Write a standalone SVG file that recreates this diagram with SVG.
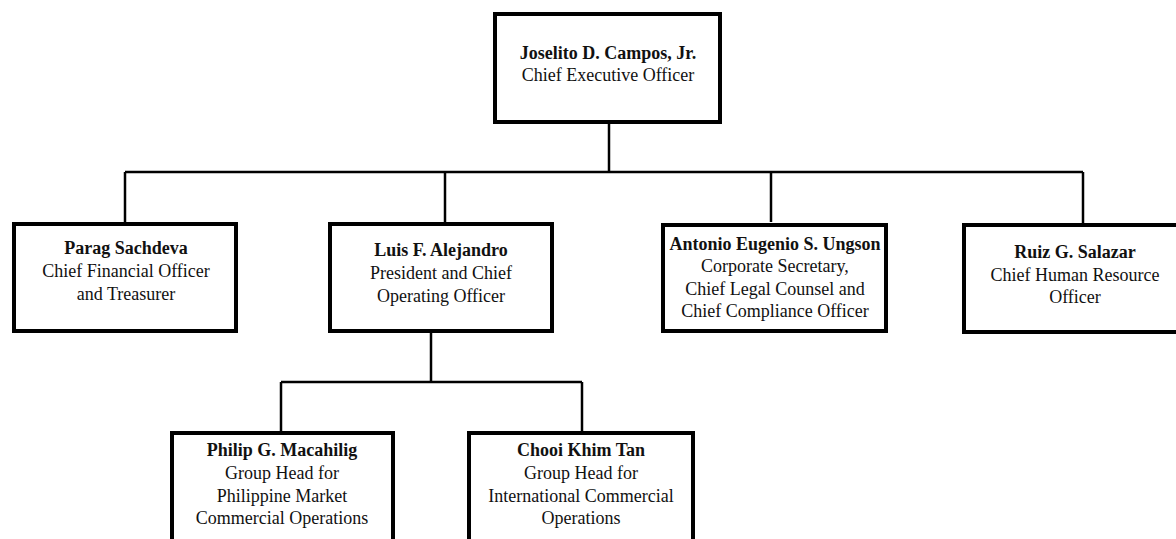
<svg xmlns="http://www.w3.org/2000/svg" width="1176" height="539" viewBox="0 0 1176 539">
  <style>
    .box { fill: #ffffff; stroke: #000000; stroke-width: 4; }
    .conn { fill: none; stroke: #000000; stroke-width: 2.5; }
    text { font-family: "Liberation Serif", "Times New Roman", serif; font-size: 18px; fill: #111111; text-anchor: middle; }
    .name { font-weight: bold; }
  </style>
  <rect width="1176" height="539" fill="#ffffff"/>
  <g id="connectors">
    <path class="conn" d="M609 124 V172"/>
    <path class="conn" d="M125 172 H1083"/>
    <path class="conn" d="M125 172 V222"/>
    <path class="conn" d="M445 172 V222"/>
    <path class="conn" d="M771 172 V222"/>
    <path class="conn" d="M1083 172 V223"/>
    <path class="conn" d="M431 333 V382"/>
    <path class="conn" d="M281 382 H582"/>
    <path class="conn" d="M281 382 V431"/>
    <path class="conn" d="M582 382 V431"/>
  </g>
  <g id="ceo">
    <rect class="box" x="495" y="14" width="225" height="108"/>
    <text class="name" x="608" y="59">Joselito D. Campos, Jr.</text>
    <text x="608" y="81">Chief Executive Officer</text>
  </g>
  <g id="cfo">
    <rect class="box" x="14" y="224" width="222" height="107"/>
    <text class="name" x="126" y="254">Parag Sachdeva</text>
    <text x="126" y="277">Chief Financial Officer</text>
    <text x="126" y="299.5">and Treasurer</text>
  </g>
  <g id="coo">
    <rect class="box" x="330" y="224" width="222" height="107"/>
    <text class="name" x="441" y="256">Luis F. Alejandro</text>
    <text x="441" y="279">President and Chief</text>
    <text x="441" y="302">Operating Officer</text>
  </g>
  <g id="corpsec">
    <rect class="box" x="663" y="225" width="223" height="106"/>
    <text class="name" x="775" y="250">Antonio Eugenio S. Ungson</text>
    <text x="775" y="272">Corporate Secretary,</text>
    <text x="775" y="295">Chief Legal Counsel and</text>
    <text x="775" y="317">Chief Compliance Officer</text>
  </g>
  <g id="chro">
    <rect class="box" x="964" y="225" width="222" height="107"/>
    <text class="name" x="1075" y="258">Ruiz G. Salazar</text>
    <text x="1075" y="281">Chief Human Resource</text>
    <text x="1075" y="303">Officer</text>
  </g>
  <g id="ph-market">
    <rect class="box" x="172" y="433" width="221" height="120"/>
    <text class="name" x="282" y="456">Philip G. Macahilig</text>
    <text x="282" y="479">Group Head for</text>
    <text x="282" y="502">Philippine Market</text>
    <text x="282" y="524">Commercial Operations</text>
  </g>
  <g id="intl">
    <rect class="box" x="469" y="433" width="224" height="120"/>
    <text class="name" x="581" y="456">Chooi Khim Tan</text>
    <text x="581" y="479">Group Head for</text>
    <text x="581" y="502">International Commercial</text>
    <text x="581" y="524">Operations</text>
  </g>
</svg>
